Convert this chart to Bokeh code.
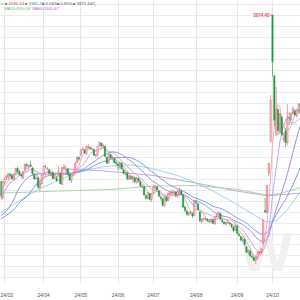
import numpy as np
from bokeh.plotting import figure
from bokeh.models import Range1d, FixedTicker, Label, ColumnDataSource, SingleIntervalTicker
from bokeh.embed import file_html
from bokeh.resources import INLINE

# ---------------- data ----------------
dates = ["02-28","02-29",
 "03-01","03-04","03-05","03-06","03-07","03-08","03-11","03-12","03-13","03-14","03-15","03-18","03-19","03-20","03-21","03-22","03-25","03-26","03-27","03-28","03-29",
 "04-01","04-02","04-03","04-08","04-09","04-10","04-11","04-12","04-15","04-16","04-17","04-18","04-19","04-22","04-23","04-24","04-25","04-26","04-29","04-30",
 "05-06","05-07","05-08","05-09","05-10","05-13","05-14","05-15","05-16","05-17","05-20","05-21","05-22","05-23","05-24","05-27","05-28","05-29","05-30","05-31",
 "06-03","06-04","06-05","06-06","06-07","06-11","06-12","06-13","06-14","06-17","06-18","06-19","06-20","06-21","06-24","06-25","06-26","06-27","06-28",
 "07-01","07-02","07-03","07-04","07-05","07-08","07-09","07-10","07-11","07-12","07-15","07-16","07-17","07-18","07-19","07-22","07-23","07-24","07-25","07-26","07-29","07-30","07-31",
 "08-01","08-02","08-05","08-06","08-07","08-08","08-09","08-12","08-13","08-14","08-15","08-16","08-19","08-20","08-21","08-22","08-23","08-26","08-27","08-28","08-29","08-30",
 "09-02","09-03","09-04","09-05","09-06","09-09","09-10","09-11","09-12","09-13","09-18","09-19","09-20","09-23","09-24","09-25","09-26","09-27","09-30",
 "10-08","10-09","10-10","10-11","10-14","10-15","10-16","10-17","10-18","10-21","10-22","10-23","10-24","10-25","10-28","10-29"]

opens = [3016,2950,
 3012,3030,3033,3045,3040,3025,3045,3068,3055,3042,3030,3060,3082,3075,3082,3068,3045,3028,3030,2992,3008,
 3044,3075,3066,3062,3045,3050,3030,3030,3040,3050,3005,3068,3060,3066,3045,3020,3040,3055,3092,3110,
 3120,3142,3140,3125,3152,3150,3145,3142,3118,3120,3160,3168,3155,3155,3112,3090,3122,3105,3108,3092,
 3085,3072,3088,3062,3045,3050,3025,3035,3025,3030,3012,3028,3015,2995,2995,2960,2948,2968,2945,
 2970,2990,2995,2978,2955,2948,2920,2955,2942,2968,2970,2972,2975,2960,2975,2978,2962,2915,2898,2885,2892,2888,2880,
 2935,2928,2895,2858,2866,2868,2868,2860,2858,2865,2848,2875,2880,2890,2862,2855,2848,2855,2852,2846,2835,2822,
 2840,2808,2798,2782,2786,2758,2735,2740,2720,2716,2705,2715,2735,2738,2770,2901,2893,3049,3174,
 3674.4,3433,3203,3300,3210,3270,3180,3215,3170,3270,3260,3285,3295,3275,3295,3325]

highs = [3021,3016,
 3031,3040,3048,3050,3049,3048,3070,3075,3062,3048,3058,3086,3090,3082,3098,3072,3050,3045,3034,3020,3044,
 3078,3082,3073,3066,3055,3052,3045,3038,3075,3052,3072,3085,3078,3070,3050,3046,3060,3092,3114,3118,
 3142,3150,3145,3156,3165,3155,3150,3145,3125,3156,3174,3170,3166,3158,3115,3126,3125,3118,3112,3100,
 3090,3095,3092,3068,3060,3055,3042,3040,3038,3035,3035,3032,3020,3005,2998,2965,2975,2970,2970,
 2998,3000,2998,2982,2962,2952,2962,2960,2972,2978,2985,2980,2978,2985,2990,2982,2968,2920,2905,2898,2900,2895,2940,
 2945,2930,2900,2872,2875,2875,2870,2866,2870,2868,2880,2890,2896,2892,2868,2860,2858,2862,2856,2850,2840,2850,
 2842,2815,2800,2795,2792,2762,2746,2748,2730,2720,2720,2740,2740,2752,2865,2952,3001,3088,3358,
 3674.4,3440,3392,3305,3287,3280,3210,3227,3322,3290,3290,3315,3305,3305,3325,3330]

lows = [2950,2945,
 3005,3022,3022,3033,3022,3020,3040,3050,3040,3030,3025,3058,3065,3066,3075,3040,3022,3025,2990,2980,3000,
 3040,3068,3060,3045,3035,3025,3025,3015,3035,3005,3002,3062,3052,3040,3018,3010,3035,3050,3088,3098,
 3115,3138,3125,3120,3145,3140,3138,3118,3110,3115,3152,3150,3148,3112,3085,3088,3105,3100,3088,3082,
 3060,3065,3062,3045,3040,3020,3022,3022,3010,3010,3008,3012,2995,2990,2960,2945,2945,2940,2935,
 2965,2985,2978,2955,2940,2915,2918,2935,2938,2960,2965,2965,2955,2950,2960,2960,2912,2895,2880,2880,2885,2872,2878,
 2925,2900,2855,2850,2860,2860,2855,2852,2850,2848,2845,2872,2875,2862,2852,2845,2842,2848,2842,2832,2815,2820,
 2808,2798,2780,2776,2762,2735,2724,2718,2712,2700,2689.7,2705,2725,2730,2768,2890,2889,3036,3174,
 3431,3235,3195,3200,3205,3198,3175,3152.8,3160,3240,3255,3280,3275,3270,3285,3285]

closes = [2957.85,3015.17,
 3027.02,3039.31,3047.79,3039.93,3027.40,3046.02,3068.46,3055.94,3043.83,3038.23,3054.64,3084.93,3079.69,3079.25,3077.11,3048.03,3026.31,3031.48,2993.14,3010.66,3041.17,
 3077.38,3074.96,3069.30,3047.05,3048.54,3027.34,3034.25,3019.47,3057.38,3007.07,3071.38,3074.22,3065.26,3044.60,3021.98,3044.82,3052.90,3088.64,3113.04,3104.82,
 3140.72,3147.74,3128.48,3154.32,3154.55,3148.02,3145.77,3119.90,3122.40,3154.03,3171.15,3157.97,3158.54,3116.39,3088.87,3124.04,3109.57,3111.02,3091.68,3086.81,
 3078.49,3091.20,3065.40,3048.79,3051.28,3028.05,3037.47,3028.92,3032.63,3015.89,3030.25,3018.05,2998.14,2998.80,2963.10,2950.00,2972.53,2945.85,2967.40,
 2994.73,2997.01,2982.38,2957.57,2949.93,2922.45,2959.37,2939.36,2970.39,2971.30,2974.01,2976.30,2962.10,2977.13,2982.31,2964.22,2915.37,2901.95,2886.74,2890.90,2891.85,2879.30,2938.75,
 2932.39,2905.34,2860.70,2867.28,2869.90,2869.83,2862.19,2858.20,2867.95,2850.65,2877.36,2879.43,2893.67,2866.66,2856.58,2848.77,2854.37,2855.52,2848.73,2837.43,2823.11,2842.21,
 2811.04,2802.98,2784.28,2788.31,2765.81,2736.49,2744.19,2721.80,2717.12,2704.09,2717.28,2736.02,2736.81,2748.92,2863.13,2896.31,3000.95,3087.53,3336.50,
 3489.78,3258.86,3301.93,3217.74,3284.32,3201.29,3202.95,3169.38,3261.56,3268.11,3285.87,3302.80,3280.26,3299.70,3322.20,3286.41]

# closes before the visible window (Jan 2 - Feb 27), used for the short moving averages
prior_closes = [2962.28,2967.25,2954.35,2929.18,2887.54,2893.25,2877.70,2886.65,2881.98,2886.29,2893.99,
 2845.78,2832.28,2832.02,2756.34,2770.74,2820.77,2906.11,2910.22,2883.36,2830.53,2788.55,
 2770.74,2730.15,2702.19,2789.49,2829.70,2865.90,2910.54,2922.73,2950.96,2988.36,3004.88,2977.02,3015.48]

# slow moving averages (bar index, value)
ma60_idx = [0, 20, 40, 55, 70, 81, 95, 105, 115, 127, 137, 143, 148, 154, 161]
ma60_val = [2894, 2985, 3050, 3075, 3082, 3068, 3040, 3010, 2975, 2925, 2880, 2855, 2860, 2905, 2975]
ma120_idx = [0, 30, 60, 82, 105, 127, 143, 150, 161]
ma120_val = [2970, 2978, 2985, 2998, 3000, 2985, 2962, 2968, 2992]
ma250_idx = [36, 55, 82, 105, 127, 143, 150, 161]
ma250_val = [3065, 3058, 3040, 3010, 2978, 2960, 2963, 2970]

month_idx = [2, 23, 43, 63, 82, 105, 127, 146]
month_lab = ["24/03", "24/04", "24/05", "24/06", "24/07", "24/08", "24/09", "24/10"]

peak_label = "3674.40"

# header legend texts
head_row1 = ["h:", "3596.34", "3385.71", "0.56%", "0.85%", "3672.44亿"]
head_row2 = ["MA20:3310.08", "MA60:3345.67"]

# ---------------- computation ----------------
n = len(closes)
x = np.arange(n)
o = np.array(opens, float); h = np.array(highs, float); l = np.array(lows, float); c = np.array(closes, float)
allc = np.array(prior_closes + closes, float)
off = len(prior_closes)

def ma(k):
    out = []
    for i in range(n):
        j = off + i
        out.append(allc[j - k + 1:j + 1].mean())
    return np.array(out)

ma5, ma10, ma20, ma30 = ma(5), ma(10), ma(20), ma(30)

X0, X1 = -0.15, 161.05
Y1 = 3732.3
PPX = 3.8616
Y0 = Y1 - 290 * PPX
def py(p):  # pixel row -> price
    return Y1 - p * PPX
def px(p):  # pixel column -> bar index
    return X0 + p * (X1 - X0) / 300.0

p = figure(width=300, height=300, x_range=Range1d(X0, X1), y_range=Range1d(Y0, Y1),
           output_backend="svg", toolbar_location=None,
           min_border_left=0, min_border_right=0, min_border_top=0, min_border_bottom=10)
p.outline_line_color = None
p.background_fill_color = "white"
p.yaxis.visible = False
p.xaxis.ticker = FixedTicker(ticks=month_idx)
p.xaxis.major_label_overrides = {i: s for i, s in zip(month_idx, month_lab)}
p.xaxis.major_label_text_font_size = "5px"
p.xaxis.major_label_text_color = "#555555"
p.xaxis.major_label_standoff = 2
p.xaxis.major_tick_line_color = None
p.xaxis.minor_tick_line_color = None
p.xaxis.axis_line_color = None
p.xgrid.ticker = FixedTicker(ticks=month_idx)
p.xgrid.grid_line_color = "#e6e6e6"
p.ygrid.ticker = SingleIntervalTicker(interval=43.2)
p.ygrid.grid_line_color = "#ececec"

# watermark (drawn beneath the candles)
p.add_layout(Label(x=px(239), y=py(289), text="W", text_font_size="56px", text_font="Arial",
                   text_font_style="bold", text_color="#f0f0f0", text_baseline="bottom",
                   level="underlay"))

# slow MAs
p.line(ma250_idx, ma250_val, line_color="#c79ad8", line_width=0.9)
p.line(ma120_idx, ma120_val, line_color="#9fd49a", line_width=0.9)
p.line(ma60_idx, ma60_val, line_color="#8fd0e6", line_width=0.9)
p.line(x, ma30, line_color="#6f8fe8", line_width=0.9)
p.line(x, ma20, line_color="#9b7fd9", line_width=0.9)
p.line(x, ma10, line_color="#b8a0e0", line_width=0.9)
p.line(x, ma5, line_color="#f0a0b0", line_width=0.9)

up = c >= o
src_up = ColumnDataSource(dict(x=x[up], top=np.maximum(o, c)[up], bottom=np.minimum(o, c)[up], h=h[up], l=l[up]))
src_dn = ColumnDataSource(dict(x=x[~up], top=np.maximum(o, c)[~up], bottom=np.minimum(o, c)[~up], h=h[~up], l=l[~up]))
p.segment(x0="x", y0="l", x1="x", y1="h", source=src_up, line_color="#e8546a", line_width=0.6)
p.segment(x0="x", y0="l", x1="x", y1="h", source=src_dn, line_color="#1e9c46", line_width=0.6)
p.vbar(x="x", top="top", bottom="bottom", width=0.6, source=src_up, fill_color="white", line_color="#e8546a", line_width=0.6)
p.vbar(x="x", top="top", bottom="bottom", width=0.7, source=src_dn, fill_color="#1e9c46", line_color="#1e9c46", line_width=0.5)

# peak label
ipk = int(np.argmax(h))
p.segment(x0=[ipk - 1.6], y0=[h[ipk]], x1=[ipk], y1=[h[ipk]], line_color="#e8546a", line_width=0.6)
p.add_layout(Label(x=ipk - 1.6, y=h[ipk], text=peak_label, text_font_size="4.5px", text_color="#d9304a",
                   text_align="right", text_baseline="middle", background_fill_color="#fbe3e6"))

# header legend
row1_cols = ["#3aa8a0", "#e0405a", "#3aa8a0", "#555555", "#555555", "#555555"]
row1_x = [0, 8, 28, 45, 60, 76]
for t, col, xx in zip(head_row1, row1_cols, row1_x):
    if xx > 3:
        p.add_layout(Label(x=px(xx - 3.5), y=py(3), text="■", text_font_size="4px",
                           text_color="#7a7a7a", text_baseline="middle"))
    p.add_layout(Label(x=px(xx), y=py(3), text=t, text_font_size="4.3px",
                       text_color=col, text_baseline="middle"))
row2_cols = ["#4fbf6a", "#c050d8"]
row2_x = [4, 32]
for t, col, xx in zip(head_row2, row2_cols, row2_x):
    p.add_layout(Label(x=px(xx), y=py(7.8), text=t, text_font_size="4px",
                       text_color=col, text_baseline="middle"))

open("out.html", "w").write(file_html(p, INLINE))
